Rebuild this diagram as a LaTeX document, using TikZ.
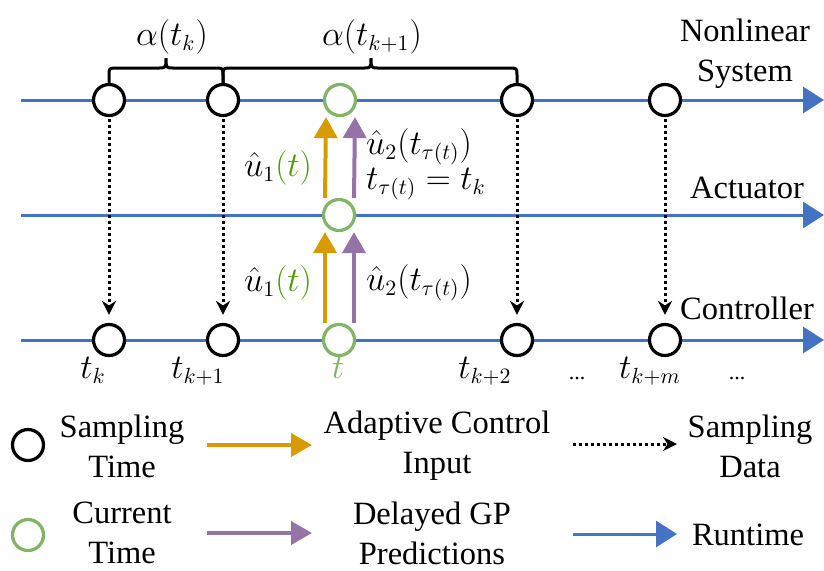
\documentclass[tikz,border=0pt]{standalone}
\usepackage{fontspec}
\setmainfont{Liberation Serif}
\newfontfamily\timesfont{Liberation Serif}
\usetikzlibrary{arrows.meta}
\definecolor{runblue}{HTML}{4472C4}
\definecolor{curgreen}{HTML}{82B366}
\definecolor{mathgreen}{HTML}{4D9A00}
\definecolor{ctrlorange}{HTML}{D79B00}
\definecolor{gppurple}{HTML}{9673A6}
\begin{document}
\begin{tikzpicture}[x=0.5pt,y=-0.5pt,
    every node/.style={font=\timesfont\fontsize{16.25}{20}\selectfont},
    samp/.style={circle,draw,line width=1.6pt,minimum size=15.5pt,inner sep=0pt,fill=white},
    curr/.style={samp,draw=curgreen},
    runtime/.style={draw=runblue,line width=1.5pt,-{Triangle[length=10.5pt,width=13pt]}},
    sampdata/.style={line width=1.5pt,dash pattern=on 1.5pt off 1.5pt,-{Stealth[length=7pt,width=7pt]}},
    ctrlin/.style={draw=ctrlorange,line width=2pt,-{Triangle[length=10.5pt,width=11.5pt]}},
    gppred/.style={ctrlin,draw=gppurple},
    timebrace/.style={line width=1.5pt}]
  \useasboundingbox (0,0) rectangle (824,570);
  % runtime axes
  \coordinate (sysL) at (21,100);
  \coordinate (sysR) at (824,100);
  \coordinate (actL) at (21,215);
  \coordinate (actR) at (824,215);
  \coordinate (ctlL) at (21,340);
  \coordinate (ctlR) at (824,340);
  \draw[runtime] (sysL) -- (sysR);
  \draw[runtime] (actL) -- (actR);
  \draw[runtime] (ctlL) -- (ctlR);
  \node[align=center] (tsys) at (745,54) {Nonlinear\\System};
  \node (tact) at (747,188) {Actuator};
  \node (tctl) at (747,308) {Controller};
  % sampling instants
  \node[samp] (s1) at (109,100) {};
  \node[samp] (s2) at (223,100) {};
  \node[curr] (s3) at (340,100) {};
  \node[samp] (s4) at (517,100) {};
  \node[samp] (s5) at (665,100) {};
  \node[curr] (a3) at (339,215) {};
  \node[samp] (c1) at (109,340) {};
  \node[samp] (c2) at (223,340) {};
  \node[curr] (c3) at (339,340) {};
  \node[samp] (c4) at (517,340) {};
  \node[samp] (c5) at (665,340) {};
  \begin{scope}[shorten <=1pt,shorten >=4pt]
    \draw[sampdata] (s1) -- (c1);
    \draw[sampdata] (s2) -- (c2);
    \draw[sampdata] (s4) -- (c4);
    \draw[sampdata] (s5) -- (c5);
  \end{scope}
  % braces
  \draw[timebrace] (s1.north) -- (109,76) .. controls (109,68) .. (117,68) -- (158,68)
    .. controls (166,68) .. (166,58) .. controls (166,68) .. (174,68) -- (215,68)
    .. controls (223,68) .. (223,76) -- (s2.north);
  \draw[timebrace] (s2.north) -- (223,76) .. controls (223,68) .. (231,68) -- (363,68)
    .. controls (371,68) .. (371,58) .. controls (371,68) .. (379,68) -- (509,68)
    .. controls (517,68) .. (517,76) -- (s4.north);
  \node (al1) at (172,37) {$\alpha(t_k)$};
  \node (al2) at (372,37) {$\alpha(t_{k+1})$};
  % inputs at the current time
  \draw[ctrlin] ([xshift=-7pt]c3.north) -- ([xshift=-7pt]a3.south);
  \draw[gppred] ([xshift=7.5pt]c3.north) -- ([xshift=7.5pt]a3.south);
  \draw[ctrlin] ([xshift=-7pt]a3.north) -- ([xshift=-7pt]s3.south);
  \draw[gppred] ([xshift=7.5pt]a3.north) -- ([xshift=7.5pt]s3.south);
  \node (u1a) at (278,168) {$\hat{u}_1\textcolor{mathgreen}{(t)}$};
  \node[anchor=west] (u2a) at (359,147) {$\hat{u}_2(t_{\tau(t)})$};
  \node[anchor=west] (tau) at (359,184) {$t_{\tau(t)}=t_k$};
  \node (u1b) at (278,283) {$\hat{u}_1\textcolor{mathgreen}{(t)}$};
  \node[anchor=west] (u2b) at (359,283) {$\hat{u}_2(t_{\tau(t)})$};
  % time labels
  \node[anchor=base] (l1) at (93,378) {$t_k$};
  \node[anchor=base] (l2) at (198,378) {$t_{k+1}$};
  \node[anchor=base,text=curgreen] (l3) at (338,378) {$t$};
  \node[anchor=base] (l4) at (485,378) {$t_{k+2}$};
  \node[anchor=base,font=\timesfont\fontsize{11}{13}\selectfont] (d1) at (577,379) {...};
  \node[anchor=base] (l5) at (650,378) {$t_{k+m}$};
  \node[anchor=base,font=\timesfont\fontsize{11}{13}\selectfont] (d2) at (737,379) {...};
  % legend
  \node[samp] (lsamp) at (28,445) {};
  \node[curr] (lcurr) at (28,535) {};
  \node[align=center] (tsamp) at (122,446) {Sampling\\Time};
  \node[align=center] (tcurr) at (122,533) {Current\\Time};
  \coordinate (o1) at (207,445);
  \coordinate (o2) at (312,445);
  \coordinate (p1) at (207,533);
  \coordinate (p2) at (312,533);
  \draw[ctrlin] (o1) -- (o2);
  \draw[gppred] (p1) -- (p2);
  \node[align=center] (tctrl) at (437,446) {Adaptive Control\\Input};
  \node[align=center] (tgp) at (432,533) {Delayed GP\\Predictions};
  \coordinate (d1L) at (573,444);
  \coordinate (d1R) at (677,444);
  \coordinate (r1L) at (573,534);
  \coordinate (r1R) at (677,534);
  \draw[sampdata] (d1L) -- (d1R);
  \draw[runtime] (r1L) -- (r1R);
  \node[align=center] (tdata) at (750,446) {Sampling\\Data};
  \node (trun) at (748,535) {Runtime};
\end{tikzpicture}
\end{document}
